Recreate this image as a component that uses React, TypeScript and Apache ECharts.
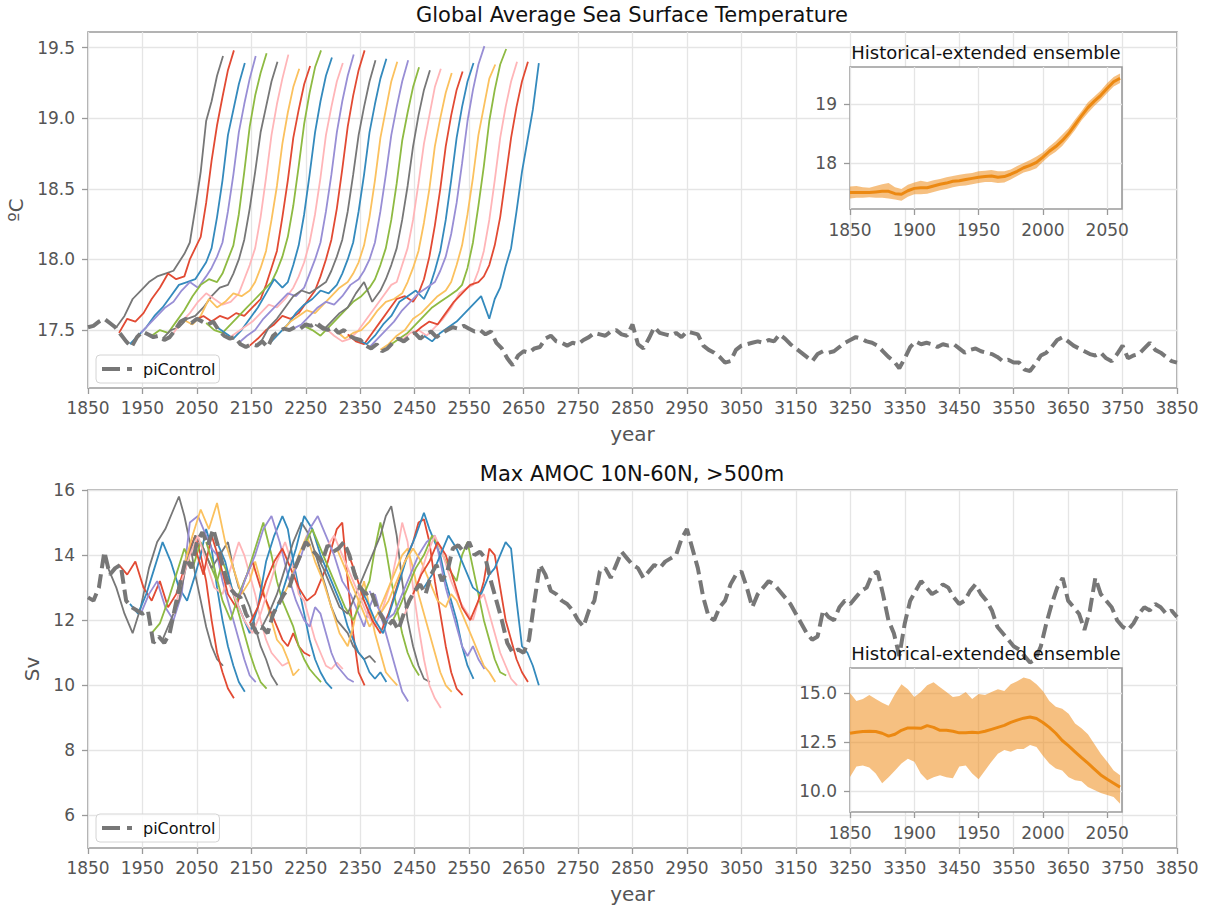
import React, { useEffect, useRef } from "react";
import * as echarts from "echarts";

const FONT = "DejaVu Sans";

// Historical-extended member sample years (calendar years of the historical run)
const HIST_YEARS = [1850, 1865, 1880, 1895, 1910, 1925, 1940, 1955, 1970, 1980, 1990, 2000, 2010, 2020, 2030, 2040, 2050, 2061];
// Year on the piControl time axis at which each member starts
const BRANCH_YEARS = [1887, 1907, 1927, 1947, 1967, 1987, 2007, 2027, 2047, 2067, 2087, 2107, 2127, 2147, 2167, 2187, 2207, 2227, 2247, 2267, 2287, 2307, 2327, 2347, 2367, 2387, 2407, 2427, 2447, 2467];
const GRAY = "#777777", RED = "#E24A33", BLUE = "#348ABD", PURPLE = "#988ED5", YELLOW = "#FBC15E", GREEN = "#8EBA42", PINK = "#FFB5B8";
const MEMBER_COLORS = [GRAY, RED, BLUE, PURPLE, GREEN, GRAY, PINK, YELLOW, RED, GREEN, BLUE, PINK, PURPLE, RED, GRAY, BLUE, YELLOW, PURPLE, GREEN, GRAY, PINK, YELLOW, RED, BLUE, PURPLE, YELLOW, GREEN, PINK, RED, BLUE];

const SST_MEMBERS = [
  [17.56, 17.52, 17.60, 17.72, 17.78, 17.84, 17.88, 17.90, 17.92, 17.98, 18.04, 18.12, 18.36, 18.62, 18.98, 19.12, 19.30, 19.44],
  [17.48, 17.58, 17.56, 17.62, 17.72, 17.80, 17.90, 17.86, 17.88, 18.00, 18.08, 18.16, 18.40, 18.70, 18.95, 19.15, 19.34, 19.48],
  [17.40, 17.46, 17.52, 17.60, 17.66, 17.74, 17.82, 17.84, 17.86, 17.92, 17.98, 18.08, 18.30, 18.56, 18.88, 19.06, 19.24, 19.39],
  [17.48, 17.54, 17.60, 17.66, 17.70, 17.78, 17.84, 17.80, 17.88, 17.94, 18.02, 18.12, 18.34, 18.60, 18.90, 19.10, 19.28, 19.44],
  [17.46, 17.50, 17.48, 17.56, 17.64, 17.74, 17.82, 17.86, 17.84, 17.90, 18.00, 18.10, 18.32, 18.62, 18.94, 19.16, 19.32, 19.46],
  [17.44, 17.50, 17.52, 17.58, 17.60, 17.66, 17.74, 17.80, 17.82, 17.90, 18.00, 18.14, 18.36, 18.62, 18.90, 19.08, 19.26, 19.40],
  [17.48, 17.56, 17.62, 17.70, 17.76, 17.72, 17.68, 17.70, 17.76, 17.86, 17.96, 18.08, 18.30, 18.58, 18.88, 19.10, 19.28, 19.45],
  [17.57, 17.54, 17.60, 17.72, 17.66, 17.70, 17.76, 17.74, 17.78, 17.84, 17.94, 18.06, 18.28, 18.52, 18.82, 19.04, 19.22, 19.35],
  [17.57, 17.60, 17.56, 17.60, 17.58, 17.62, 17.60, 17.66, 17.72, 17.82, 17.94, 18.06, 18.30, 18.56, 18.86, 19.06, 19.24, 19.37],
  [17.55, 17.50, 17.48, 17.54, 17.60, 17.66, 17.72, 17.78, 17.84, 17.92, 18.02, 18.16, 18.38, 18.66, 18.96, 19.18, 19.36, 19.48],
  [17.52, 17.48, 17.44, 17.50, 17.58, 17.66, 17.76, 17.86, 17.80, 17.84, 17.96, 18.10, 18.32, 18.60, 18.90, 19.12, 19.30, 19.43],
  [17.44, 17.48, 17.52, 17.56, 17.62, 17.68, 17.66, 17.72, 17.80, 17.88, 17.98, 18.12, 18.32, 18.58, 18.88, 19.08, 19.26, 19.39],
  [17.41, 17.46, 17.50, 17.58, 17.64, 17.70, 17.76, 17.74, 17.80, 17.90, 18.00, 18.12, 18.34, 18.60, 18.90, 19.12, 19.30, 19.45],
  [17.39, 17.44, 17.50, 17.54, 17.60, 17.58, 17.62, 17.70, 17.78, 17.88, 18.00, 18.14, 18.36, 18.64, 18.94, 19.16, 19.34, 19.48],
  [17.41, 17.52, 17.58, 17.66, 17.74, 17.78, 17.76, 17.80, 17.84, 17.92, 18.02, 18.14, 18.34, 18.60, 18.88, 19.08, 19.26, 19.41],
  [17.42, 17.48, 17.54, 17.62, 17.68, 17.72, 17.78, 17.76, 17.82, 17.90, 18.00, 18.12, 18.34, 18.60, 18.90, 19.10, 19.28, 19.42],
  [17.50, 17.56, 17.60, 17.64, 17.62, 17.68, 17.74, 17.80, 17.84, 17.90, 17.98, 18.10, 18.30, 18.56, 18.86, 19.06, 19.26, 19.40],
  [17.51, 17.54, 17.60, 17.66, 17.70, 17.68, 17.74, 17.82, 17.86, 17.92, 18.00, 18.12, 18.34, 18.60, 18.88, 19.08, 19.26, 19.41],
  [17.53, 17.50, 17.46, 17.52, 17.58, 17.64, 17.70, 17.74, 17.80, 17.86, 17.96, 18.08, 18.28, 18.54, 18.84, 19.04, 19.22, 19.36],
  [17.54, 17.50, 17.56, 17.62, 17.66, 17.76, 17.84, 17.70, 17.78, 17.86, 17.96, 18.08, 18.28, 18.52, 18.80, 19.02, 19.20, 19.34],
  [17.51, 17.46, 17.42, 17.44, 17.50, 17.58, 17.66, 17.74, 17.82, 17.84, 17.96, 18.08, 18.28, 18.54, 18.82, 19.02, 19.22, 19.35],
  [17.49, 17.44, 17.48, 17.50, 17.56, 17.64, 17.70, 17.72, 17.76, 17.84, 17.94, 18.06, 18.26, 18.50, 18.80, 19.00, 19.18, 19.32],
  [17.47, 17.42, 17.40, 17.48, 17.56, 17.64, 17.72, 17.74, 17.70, 17.76, 17.86, 18.02, 18.24, 18.50, 18.80, 19.02, 19.20, 19.33],
  [17.43, 17.40, 17.46, 17.54, 17.60, 17.70, 17.74, 17.78, 17.72, 17.80, 17.92, 18.06, 18.28, 18.56, 18.86, 19.08, 19.26, 19.39],
  [17.38, 17.44, 17.50, 17.56, 17.64, 17.70, 17.76, 17.80, 17.84, 17.92, 18.02, 18.18, 18.40, 18.68, 18.98, 19.20, 19.38, 19.51],
  [17.36, 17.40, 17.46, 17.50, 17.58, 17.62, 17.68, 17.74, 17.78, 17.84, 17.96, 18.10, 18.32, 18.58, 18.88, 19.08, 19.28, 19.38],
  [17.40, 17.44, 17.48, 17.54, 17.60, 17.66, 17.70, 17.74, 17.78, 17.82, 17.94, 18.12, 18.38, 18.66, 18.98, 19.20, 19.38, 19.49],
  [17.43, 17.48, 17.50, 17.46, 17.52, 17.58, 17.66, 17.76, 17.80, 17.82, 17.92, 18.06, 18.28, 18.56, 18.86, 19.08, 19.26, 19.40],
  [17.47, 17.52, 17.56, 17.54, 17.62, 17.70, 17.76, 17.82, 17.84, 17.88, 17.96, 18.10, 18.30, 18.58, 18.86, 19.08, 19.26, 19.40],
  [17.46, 17.42, 17.48, 17.52, 17.56, 17.62, 17.68, 17.74, 17.58, 17.72, 17.80, 17.95, 18.08, 18.34, 18.62, 18.84, 19.06, 19.39],
];

const AMOC_MEMBERS = [
  [13.6, 13.0, 12.2, 11.6, 12.4, 13.6, 14.4, 14.8, 15.4, 15.8, 15.2, 14.4, 13.4, 12.6, 11.8, 11.2, 10.8, 10.6],
  [13.7, 13.4, 13.8, 13.0, 12.6, 13.2, 12.4, 12.8, 13.6, 14.2, 14.6, 14.0, 13.2, 12.0, 11.0, 10.4, 9.9, 9.6],
  [12.5, 12.2, 12.8, 13.6, 14.4, 13.8, 13.0, 12.6, 13.4, 14.0, 14.8, 14.2, 13.0, 12.0, 11.2, 10.6, 10.1, 9.8],
  [12.2, 12.8, 13.2, 12.4, 12.0, 12.8, 15.0, 15.2, 14.6, 14.2, 14.0, 13.2, 12.6, 12.0, 11.4, 10.8, 10.3, 10.1],
  [11.6, 11.9, 12.6, 13.4, 14.2, 13.6, 14.4, 13.8, 13.2, 13.8, 13.4, 12.8, 12.2, 11.6, 11.0, 10.5, 10.1, 9.9],
  [11.4, 12.0, 12.6, 13.8, 14.6, 14.2, 13.6, 14.0, 14.4, 13.6, 13.0, 12.8, 12.4, 11.8, 11.2, 10.8, 10.3, 10.0],
  [12.2, 13.2, 14.0, 14.6, 13.8, 13.0, 12.8, 13.6, 14.4, 14.0, 13.4, 12.8, 12.0, 11.4, 11.0, 10.8, 10.6, 10.7],
  [13.7, 14.6, 15.4, 14.8, 15.6, 14.4, 13.6, 12.8, 13.2, 13.8, 13.2, 12.6, 12.0, 11.4, 11.2, 10.8, 10.3, 10.5],
  [14.2, 13.4, 14.6, 13.8, 12.8, 12.4, 13.2, 13.8, 13.0, 12.6, 12.2, 11.8, 11.4, 11.2, 11.6, 11.2, 11.0, 10.9],
  [14.4, 13.6, 12.6, 12.0, 12.8, 13.4, 14.2, 15.0, 14.0, 13.2, 12.6, 12.2, 11.8, 11.2, 10.8, 10.5, 10.3, 10.1],
  [14.4, 13.8, 12.8, 12.2, 11.6, 12.4, 13.8, 14.6, 15.2, 14.8, 13.8, 13.0, 12.2, 11.4, 10.8, 10.4, 10.1, 9.9],
  [13.2, 12.6, 12.0, 11.6, 12.2, 13.0, 13.8, 14.4, 13.6, 12.8, 12.6, 12.0, 11.4, 11.0, 10.6, 10.5, 10.7, 10.5],
  [12.7, 13.4, 14.0, 14.8, 15.2, 14.4, 13.4, 12.6, 12.0, 11.8, 12.4, 12.2, 11.6, 11.0, 10.6, 10.4, 10.2, 10.1],
  [11.9, 12.4, 13.2, 13.8, 14.2, 13.6, 13.0, 12.6, 12.8, 13.2, 13.6, 14.2, 14.8, 15.0, 13.2, 11.6, 10.4, 10.0],
  [11.7, 12.2, 12.8, 13.6, 14.4, 15.0, 14.6, 13.8, 13.0, 12.4, 12.0, 11.8, 11.6, 11.2, 11.0, 10.8, 10.9, 10.7],
  [12.0, 12.6, 13.4, 14.2, 15.2, 14.8, 14.0, 13.4, 12.8, 12.4, 11.8, 11.4, 11.0, 10.8, 10.4, 10.2, 10.4, 10.1],
  [12.7, 13.2, 14.0, 14.6, 13.8, 13.2, 12.4, 11.6, 11.2, 11.8, 12.6, 13.2, 12.4, 11.6, 11.0, 10.4, 10.2, 10.0],
  [13.4, 14.0, 14.8, 15.2, 14.6, 14.0, 13.2, 12.8, 12.2, 11.8, 12.4, 12.8, 12.2, 11.6, 11.0, 10.4, 9.8, 9.5],
  [14.3, 14.8, 14.2, 13.6, 13.0, 12.4, 12.0, 12.6, 13.2, 14.2, 15.0, 14.2, 13.2, 12.4, 11.6, 11.0, 10.6, 10.3],
  [14.1, 13.6, 13.0, 12.4, 12.2, 12.8, 13.4, 14.0, 14.6, 15.2, 15.5, 14.6, 13.2, 12.0, 11.2, 10.6, 10.2, 10.1],
  [14.2, 14.6, 14.0, 13.4, 12.8, 12.2, 11.8, 12.4, 13.2, 14.0, 15.0, 14.4, 13.0, 11.8, 10.8, 10.0, 9.6, 9.3],
  [14.2, 13.6, 13.0, 12.4, 11.8, 12.2, 12.8, 13.4, 14.0, 14.2, 13.6, 12.8, 12.2, 11.6, 11.0, 10.4, 10.0, 9.8],
  [14.1, 13.4, 12.6, 12.0, 11.6, 12.2, 13.0, 13.8, 14.4, 15.0, 15.1, 14.4, 13.2, 12.2, 11.2, 10.4, 9.9, 9.7],
  [13.1, 12.6, 12.0, 11.6, 12.4, 13.2, 14.0, 14.6, 15.3, 14.8, 14.4, 14.0, 13.2, 12.6, 12.0, 11.2, 10.6, 10.2],
  [12.9, 12.4, 12.0, 12.2, 12.8, 13.4, 14.0, 14.4, 14.6, 13.8, 13.0, 12.4, 11.8, 11.2, 10.9, 11.2, 10.8, 10.5],
  [12.2, 12.6, 13.2, 13.8, 14.2, 13.8, 13.2, 12.6, 12.4, 12.8, 12.6, 12.2, 11.8, 11.4, 11.0, 10.6, 10.4, 10.1],
  [11.9, 12.4, 13.0, 13.6, 14.0, 14.6, 14.2, 13.6, 13.2, 14.0, 14.4, 13.6, 12.8, 12.0, 11.4, 10.8, 10.4, 10.3],
  [12.0, 12.6, 13.2, 14.0, 14.6, 14.0, 13.2, 12.6, 12.2, 12.0, 12.6, 12.8, 12.2, 11.6, 11.0, 10.6, 10.2, 10.0],
  [12.8, 13.4, 13.8, 14.4, 14.0, 13.2, 12.4, 12.0, 12.6, 13.2, 14.2, 14.0, 13.0, 12.0, 11.4, 10.8, 10.4, 10.1],
  [13.0, 13.4, 14.0, 14.6, 14.2, 13.6, 13.0, 12.8, 13.4, 13.6, 14.0, 14.4, 14.2, 12.6, 11.2, 11.0, 10.6, 10.0],
];

// piControl, one value every 10 years from 1850 to 3850
const CTRL_START = 1850;
const CTRL_STEP = 10;
const SST_CTRL = [
  17.52, 17.53, 17.56, 17.58, 17.55, 17.52, 17.47, 17.42, 17.38, 17.45,
  17.49, 17.47, 17.45, 17.46, 17.43, 17.45, 17.50, 17.56, 17.58, 17.55,
  17.58, 17.56, 17.54, 17.56, 17.50, 17.46, 17.44, 17.45, 17.40, 17.38,
  17.40, 17.39, 17.42, 17.38, 17.46, 17.49, 17.51, 17.50, 17.52, 17.51,
  17.54, 17.53, 17.55, 17.52, 17.50, 17.52, 17.48, 17.50, 17.46, 17.44,
  17.43, 17.39, 17.37, 17.40, 17.35, 17.37, 17.41, 17.44, 17.42, 17.45,
  17.48, 17.44, 17.47, 17.49, 17.45, 17.48, 17.50, 17.52, 17.51, 17.53,
  17.51, 17.49, 17.50, 17.47, 17.49, 17.41, 17.37, 17.30, 17.25, 17.32,
  17.35, 17.34, 17.37, 17.38, 17.44, 17.46, 17.42, 17.41, 17.39, 17.41,
  17.40, 17.43, 17.45, 17.48, 17.47, 17.46, 17.49, 17.50, 17.47, 17.46,
  17.54, 17.40, 17.37, 17.44, 17.52, 17.48, 17.47, 17.46, 17.48, 17.45,
  17.49, 17.48, 17.47, 17.39, 17.36, 17.34, 17.31, 17.27, 17.28, 17.36,
  17.39, 17.40, 17.41, 17.42, 17.41, 17.43, 17.42, 17.47, 17.44, 17.40,
  17.37, 17.34, 17.31, 17.28, 17.33, 17.35, 17.34, 17.35, 17.38, 17.41,
  17.43, 17.45, 17.44, 17.42, 17.41, 17.39, 17.35, 17.31, 17.28, 17.23,
  17.30, 17.38, 17.42, 17.40, 17.41, 17.40, 17.38, 17.40, 17.39, 17.40,
  17.37, 17.34, 17.36, 17.37, 17.35, 17.34, 17.33, 17.31, 17.28, 17.29,
  17.27, 17.27, 17.22, 17.21, 17.26, 17.32, 17.34, 17.38, 17.43, 17.45,
  17.42, 17.39, 17.37, 17.35, 17.33, 17.32, 17.34, 17.30, 17.28, 17.33,
  17.39, 17.30, 17.32, 17.33, 17.37, 17.41, 17.36, 17.34, 17.31, 17.28,
  17.27,
];
const AMOC_CTRL = [
  12.7, 12.6, 13.0, 14.1, 13.4, 13.6, 13.7, 12.6, 12.4, 12.3,
  12.2, 12.3, 11.3, 11.5, 11.3, 11.6, 12.4, 13.2, 13.9, 13.6,
  14.4, 14.7, 14.3, 14.8, 14.2, 13.5, 13.0, 12.8, 12.7, 12.2,
  11.9, 11.6, 11.8, 11.6, 12.2, 12.5, 12.8, 13.0, 13.6, 14.0,
  14.4, 14.2, 14.0, 13.8, 14.3, 14.1, 14.2, 14.4, 14.0, 13.4,
  13.0, 12.8, 12.9, 12.4, 12.1, 11.8, 12.0, 11.7, 12.2, 12.6,
  12.9, 13.1, 12.8, 13.4, 13.7, 13.2, 13.5, 14.2, 14.3, 14.1,
  14.4, 14.0, 14.1, 13.9, 13.2, 12.6, 12.0, 11.3, 11.0, 11.1,
  11.0, 11.4, 12.6, 13.7, 13.4, 12.9, 12.8, 12.6, 12.5, 12.3,
  12.0, 11.8, 12.3, 12.6, 13.5, 13.6, 13.3, 13.7, 14.1, 13.9,
  13.7, 13.6, 13.3, 13.5, 13.7, 13.6, 13.8, 13.9, 14.0, 14.5,
  14.8, 14.2, 13.6, 12.7, 12.1, 12.0, 12.4, 12.6, 13.1, 13.4,
  13.5, 13.0, 12.4, 12.8, 13.0, 13.2, 13.1, 12.9, 12.7, 12.5,
  12.2, 11.9, 11.6, 11.4, 11.5, 12.3, 12.1, 12.0, 12.4, 12.6,
  12.5, 12.7, 12.9, 13.0, 13.4, 13.5, 12.8, 12.0, 11.6, 10.9,
  11.9, 12.6, 12.9, 13.2, 13.0, 12.8, 12.9, 13.1, 13.0, 12.7,
  12.5, 12.6, 12.9, 13.1, 12.8, 12.6, 12.3, 11.8, 11.6, 11.4,
  11.2, 11.1, 10.9, 10.7, 10.8, 11.2, 11.9, 12.5, 13.0, 13.3,
  12.6, 12.4, 12.2, 11.7, 12.3, 13.3, 12.8, 12.6, 12.4, 12.0,
  11.8, 11.7, 11.9, 12.2, 12.4, 12.3, 12.5, 12.4, 12.2, 12.3,
  12.1,
];

// Inset ensemble statistics, every 5 years 1850-2060
const INSET_START = 1850;
const INSET_STEP = 5;
const SST_ENS_MEAN = [17.50, 17.50, 17.50, 17.50, 17.51, 17.52, 17.52, 17.48, 17.47, 17.53, 17.57, 17.58, 17.58, 17.61, 17.64, 17.66, 17.69, 17.70, 17.72, 17.74, 17.76, 17.77, 17.78, 17.76, 17.77, 17.81, 17.86, 17.92, 17.96, 18.01, 18.10, 18.20, 18.28, 18.38, 18.50, 18.65, 18.80, 18.94, 19.05, 19.15, 19.27, 19.38, 19.44];
const SST_ENS_HI = [17.60, 17.61, 17.59, 17.58, 17.61, 17.64, 17.66, 17.59, 17.56, 17.63, 17.67, 17.70, 17.68, 17.71, 17.73, 17.76, 17.78, 17.80, 17.82, 17.83, 17.86, 17.87, 17.88, 17.86, 17.86, 17.89, 17.95, 18.00, 18.05, 18.11, 18.18, 18.28, 18.37, 18.48, 18.59, 18.74, 18.88, 19.03, 19.13, 19.23, 19.36, 19.46, 19.52];
const SST_ENS_LO = [17.40, 17.41, 17.41, 17.42, 17.41, 17.41, 17.40, 17.38, 17.36, 17.43, 17.47, 17.47, 17.48, 17.51, 17.54, 17.56, 17.59, 17.61, 17.62, 17.64, 17.66, 17.68, 17.68, 17.66, 17.67, 17.72, 17.78, 17.84, 17.87, 17.91, 18.02, 18.12, 18.19, 18.29, 18.42, 18.56, 18.72, 18.85, 18.97, 19.07, 19.19, 19.30, 19.36];
const AMOC_ENS_MEAN = [12.95, 13.0, 13.04, 13.05, 13.04, 12.95, 12.8, 12.9, 13.1, 13.22, 13.22, 13.2, 13.34, 13.25, 13.1, 13.1, 13.05, 12.97, 12.98, 13.0, 12.98, 13.05, 13.15, 13.25, 13.35, 13.5, 13.62, 13.72, 13.78, 13.7, 13.5, 13.25, 12.95, 12.58, 12.3, 12.0, 11.7, 11.42, 11.12, 10.82, 10.6, 10.4, 10.2];
const AMOC_ENS_HI = [15.0, 14.6, 14.7, 14.9, 14.7, 14.5, 14.35, 14.95, 15.45, 15.2, 14.8, 15.05, 15.4, 15.55, 15.3, 15.05, 14.8, 14.85, 15.05, 14.7, 14.95, 14.9, 15.05, 15.2, 15.1, 15.45, 15.6, 15.8, 15.7, 15.45, 15.1, 14.6, 14.3, 14.2, 13.95, 13.45, 13.2, 12.9, 12.4, 11.9, 11.5, 11.05, 10.8];
const AMOC_ENS_LO = [10.72, 11.25, 11.3, 11.2, 10.9, 10.4, 10.7, 11.05, 11.4, 11.65, 11.5, 10.9, 10.55, 10.7, 10.8, 10.7, 10.65, 11.25, 11.3, 10.9, 10.6, 11.05, 11.5, 11.9, 12.1, 12.0, 12.15, 12.15, 12.35, 12.25, 11.8, 11.4, 11.15, 11.05, 10.7, 10.55, 10.5, 10.2, 10.05, 9.9, 9.8, 9.7, 9.35];

// Axis ticks
const YEAR_TICKS = [1850, 1950, 2050, 2150, 2250, 2350, 2450, 2550, 2650, 2750, 2850, 2950, 3050, 3150, 3250, 3350, 3450, 3550, 3650, 3750, 3850];
const SST_TICKS = [17.5, 18.0, 18.5, 19.0, 19.5];
const AMOC_TICKS = [6, 8, 10, 12, 14, 16];
const INSET_YEAR_TICKS = [1850, 1900, 1950, 2000, 2050];
const SST_INSET_TICKS = [18, 19];
const AMOC_INSET_TICKS = [10.0, 12.5, 15.0];

const TITLE_SST = "Global Average Sea Surface Temperature";
const TITLE_AMOC = "Max AMOC 10N-60N, >500m";
const TITLE_INSET = "Historical-extended ensemble";

const TICK_COLOR = "#555555";
const GRID_COLOR = "#e5e5e5";
const SPINE_COLOR = "#9a9a9a";
const ORANGE_LINE = "#EC8912";
const ORANGE_BAND = "rgba(239,140,25,0.55)";

function makeAxis(min: number, max: number, ticks: number[], fmt: (v: number) => string, margin: number, extra: any = {}) {
  return {
    type: "value",
    min,
    max,
    axisLine: { show: false },
    axisTick: { show: true, customValues: ticks, length: 6, lineStyle: { color: SPINE_COLOR, width: 1.3 } },
    axisLabel: {
      customValues: ticks,
      formatter: (v: number) => fmt(v),
      color: TICK_COLOR,
      fontSize: 17,
      fontFamily: FONT,
      margin,
      showMinLabel: true,
      showMaxLabel: true,
    },
    splitLine: { show: true, lineStyle: { color: GRID_COLOR, width: 1.3 } },
    ...extra,
  };
}

export default function App() {
  const ref = useRef<HTMLDivElement>(null);

  useEffect(() => {
    if (!ref.current) return;
    const chart = echarts.init(ref.current, undefined, { renderer: "svg" });

    const series: any[] = [];
    const addMembers = (members: number[][], axisIdx: number) => {
      members.forEach((vals, k) => {
        series.push({
          type: "line",
          xAxisIndex: axisIdx,
          yAxisIndex: axisIdx,
          data: vals.map((v, i) => [BRANCH_YEARS[k] + HIST_YEARS[i] - 1850, v]),
          symbol: "none",
          showSymbol: false,
          silent: true,
          lineStyle: { width: 1.8, color: MEMBER_COLORS[k] },
          itemStyle: { color: MEMBER_COLORS[k] },
          z: 2,
        });
      });
    };
    const addControl = (vals: number[], axisIdx: number) => {
      series.push({
        name: "piControl",
        type: "line",
        xAxisIndex: axisIdx,
        yAxisIndex: axisIdx,
        data: vals.map((v, i) => [CTRL_START + CTRL_STEP * i, v]),
        symbol: "none",
        showSymbol: false,
        silent: true,
        lineStyle: { width: 4, color: GRAY, type: [14, 6] },
        itemStyle: { color: GRAY },
        z: 2,
      });
    };
    const addEnsemble = (mean: number[], lo: number[], hi: number[], axisIdx: number) => {
      const xs = mean.map((_, i) => INSET_START + INSET_STEP * i);
      series.push({
        type: "custom",
        xAxisIndex: axisIdx,
        yAxisIndex: axisIdx,
        data: [[xs[0], mean[0]]],
        silent: true,
        z: 5,
        renderItem: (_params: any, api: any) => {
          const pts: number[][] = [];
          for (let i = 0; i < xs.length; i++) pts.push(api.coord([xs[i], hi[i]]));
          for (let i = xs.length - 1; i >= 0; i--) pts.push(api.coord([xs[i], lo[i]]));
          return { type: "polygon", shape: { points: pts }, style: { fill: ORANGE_BAND, stroke: "none" } };
        },
      });
      series.push({
        type: "line",
        xAxisIndex: axisIdx,
        yAxisIndex: axisIdx,
        data: mean.map((v, i) => [xs[i], v]),
        symbol: "none",
        silent: true,
        lineStyle: { width: 3, color: ORANGE_LINE },
        z: 6,
      });
    };

    addMembers(SST_MEMBERS, 0);
    addControl(SST_CTRL, 0);
    addEnsemble(SST_ENS_MEAN, SST_ENS_LO, SST_ENS_HI, 1);
    addMembers(AMOC_MEMBERS, 2);
    addControl(AMOC_CTRL, 2);
    addEnsemble(AMOC_ENS_MEAN, AMOC_ENS_LO, AMOC_ENS_HI, 3);

    const yearFmt = (v: number) => String(Math.round(v));
    const nameStyle = { color: TICK_COLOR, fontSize: 20, fontFamily: FONT };
    const gridBox = { show: true, borderColor: SPINE_COLOR, borderWidth: 1.6, backgroundColor: "#ffffff", containLabel: false, outerBoundsMode: "none" };

    const legendCommon = {
      data: [{ name: "piControl", icon: "path://M0,0H18V4H0Z M25,0H30V4H25Z" }],
      orient: "horizontal",
      itemWidth: 30,
      itemHeight: 4,
      itemGap: 8,
      padding: [6, 4, 6, 6],
      backgroundColor: "rgba(255,255,255,0.85)",
      borderColor: "#d4d4d4",
      borderWidth: 1,
      borderRadius: 4,
      selectedMode: false,
      itemStyle: { color: GRAY },
      textStyle: { color: "#111", fontSize: 16, fontFamily: FONT, padding: [0, 0, 0, 6] },
    };

    const option: any = {
      animation: false,
      backgroundColor: "#ffffff",
      textStyle: { fontFamily: FONT },
      grid: [
        { ...gridBox, left: 88, top: 32, width: 1089, height: 356, z: 0 },
        { ...gridBox, left: 850, top: 67, width: 272, height: 142, z: 3 },
        { ...gridBox, left: 88, top: 490, width: 1089, height: 358, z: 0 },
        { ...gridBox, left: 850, top: 668, width: 272, height: 144, z: 3 },
      ],
      xAxis: [
        makeAxis(1850, 3850, YEAR_TICKS, yearFmt, 11, { gridIndex: 0, name: "year", nameLocation: "middle", nameGap: 36, nameTextStyle: nameStyle }),
        makeAxis(1850, 2061.5, INSET_YEAR_TICKS, yearFmt, 12, { gridIndex: 1, z: 4 }),
        makeAxis(1850, 3850, YEAR_TICKS, yearFmt, 11, { gridIndex: 2, name: "year", nameLocation: "middle", nameGap: 36, nameTextStyle: nameStyle }),
        makeAxis(1850, 2061.5, INSET_YEAR_TICKS, yearFmt, 12, { gridIndex: 3, z: 4 }),
      ],
      yAxis: [
        makeAxis(17.09, 19.61, SST_TICKS, (v) => v.toFixed(1), 13, { gridIndex: 0, name: "ºC", nameLocation: "middle", nameGap: 58, nameRotate: 90, nameTextStyle: nameStyle }),
        makeAxis(17.22, 19.63, SST_INSET_TICKS, (v) => String(Math.round(v)), 13, { gridIndex: 1, z: 4 }),
        makeAxis(5, 16, AMOC_TICKS, (v) => String(Math.round(v)), 13, { gridIndex: 2, name: "Sv", nameLocation: "middle", nameGap: 42, nameRotate: 90, nameTextStyle: nameStyle }),
        makeAxis(8.93, 16.28, AMOC_INSET_TICKS, (v) => v.toFixed(1), 13, { gridIndex: 3, z: 4 }),
      ],
      legend: [
        { ...legendCommon, left: 96, top: 355 },
        { ...legendCommon, left: 96, top: 814 },
      ],
      graphic: [
        { type: "text", x: 632, y: 15, z: 10, style: { text: TITLE_SST, font: `21px "${FONT}"`, fill: "#111", textAlign: "center", textVerticalAlign: "middle" } },
        { type: "text", x: 632, y: 474, z: 10, style: { text: TITLE_AMOC, font: `21px "${FONT}"`, fill: "#111", textAlign: "center", textVerticalAlign: "middle" } },
        { type: "text", x: 986, y: 52, z: 10, style: { text: TITLE_INSET, font: `18px "${FONT}"`, fill: "#111", textAlign: "center", textVerticalAlign: "middle" } },
        { type: "text", x: 986, y: 653, z: 10, style: { text: TITLE_INSET, font: `18px "${FONT}"`, fill: "#111", textAlign: "center", textVerticalAlign: "middle" } },
      ],
      series,
    };

    chart.setOption(option);
    return () => chart.dispose();
  }, []);

  return <div ref={ref} style={{ position: "absolute", left: 0, top: 0, width: 1207, height: 909 }} />;
}
